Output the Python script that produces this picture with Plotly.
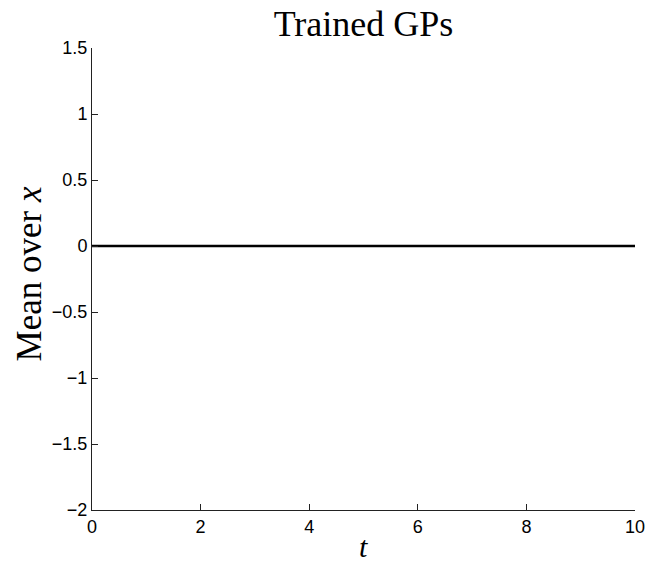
import plotly.graph_objects as go

# Mean of the trained GPs, averaged over x, as a function of t
t_values = [0, 10]
mean_values = [0, 0]

x_ticks = [0, 2, 4, 6, 8, 10]
y_ticks = [-2, -1.5, -1, -0.5, 0, 0.5, 1, 1.5]
y_tick_text = ["\u22122", "\u22121.5", "\u22121", "\u22120.5", "0", "0.5", "1", "1.5"]

serif = "Liberation Serif, Times New Roman, serif"
sans = "Liberation Sans, Arial, sans-serif"

fig = go.Figure()
fig.add_trace(go.Scatter(
    x=t_values, y=mean_values, mode="lines",
    line=dict(color="black", width=2.5),
    showlegend=False, hoverinfo="skip",
))

axis_common = dict(
    showgrid=False, zeroline=False, automargin=False,
    showline=True, linecolor="#222", linewidth=1,
    ticks="inside", ticklen=6, tickcolor="#222", tickwidth=1,
    tickfont=dict(family=sans, size=18, color="black"),
    mirror=False,
)

fig.update_xaxes(
    range=[0, 10], tickvals=x_ticks, ticktext=[str(v) for v in x_ticks],
    **axis_common,
)
fig.update_yaxes(
    range=[-2, 1.5], tickvals=y_ticks, ticktext=y_tick_text,
    **axis_common,
)

# axis titles placed as paper-anchored annotations
fig.add_annotation(text="<i>t</i>", xref="paper", yref="paper",
                   x=0.5, y=-0.078, xanchor="center", yanchor="middle",
                   showarrow=False, borderpad=0,
                   font=dict(family=serif, size=30, color="black"))
fig.add_annotation(text="Mean over <i>x</i>", xref="paper", yref="paper",
                   x=-0.116, y=0.51, xanchor="center", yanchor="middle",
                   textangle=-90, showarrow=False, borderpad=0,
                   font=dict(family=serif, size=35, color="black"))

fig.update_layout(
    width=650, height=563,
    margin=dict(l=92, r=15, t=48, b=53),
    paper_bgcolor="white", plot_bgcolor="white",
    title=dict(text="Trained GPs", x=0.5, xanchor="center", xref="paper",
               y=1 - 23 / 563, yanchor="middle", automargin=False,
               font=dict(family=serif, size=36, color="black")),
)

fig.write_html("out.html")
